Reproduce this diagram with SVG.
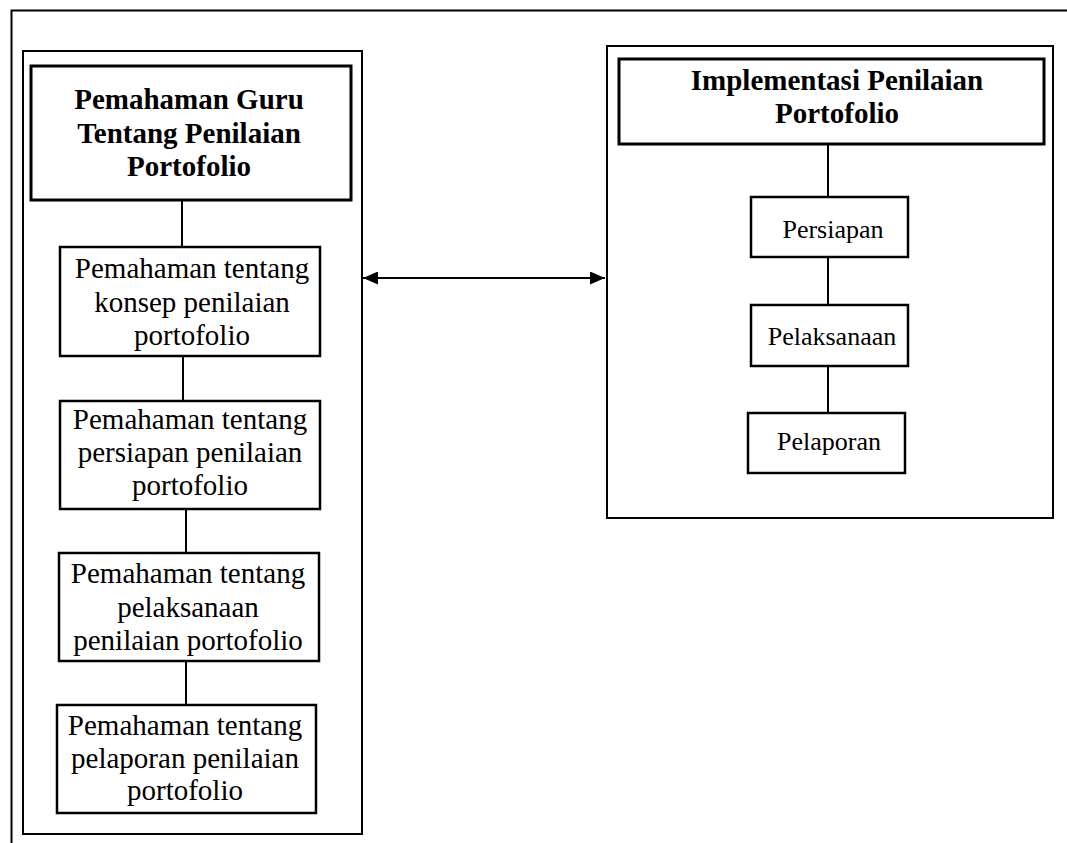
<svg xmlns="http://www.w3.org/2000/svg" width="1067" height="843" viewBox="0 0 1067 843">
<defs>
<style>
.frame{fill:none;stroke:#000;stroke-width:2}
.box{fill:#fff;stroke:#000;stroke-width:2.5}
.tbox{fill:#fff;stroke:#000;stroke-width:3}
.conn{stroke:#000;stroke-width:2;fill:none}
.t{font-family:"Liberation Serif","Times New Roman",serif;font-size:29px;text-anchor:middle;fill:#000}
.tb{font-family:"Liberation Serif","Times New Roman",serif;font-size:29px;font-weight:bold;text-anchor:middle;fill:#000}
.ts{font-family:"Liberation Serif","Times New Roman",serif;font-size:26px;text-anchor:middle;fill:#000}
</style>
<marker id="ah" viewBox="0 0 15 13" refX="15" refY="6.5" markerWidth="15" markerHeight="13" markerUnits="userSpaceOnUse" orient="auto-start-reverse">
<path d="M0,0 L15,6.5 L0,13 z" fill="#000"/>
</marker>
</defs>
<rect width="1067" height="843" fill="#fff"/>
<g id="outer-frame">
<path class="frame" d="M11.5,843 V10.5 H1067"/>
</g>
<g id="left-container">
<rect class="frame" x="23" y="51" width="339" height="783"/>
</g>
<g id="right-container">
<rect class="frame" x="607" y="46" width="446" height="472"/>
</g>
<g id="connectors">
<line class="conn" x1="182" y1="200" x2="182" y2="247"/>
<line class="conn" x1="183" y1="356" x2="183" y2="401"/>
<line class="conn" x1="186" y1="509" x2="186" y2="553"/>
<line class="conn" x1="186" y1="661" x2="186" y2="705"/>
<line class="conn" x1="828" y1="144" x2="828" y2="197"/>
<line class="conn" x1="828" y1="257" x2="828" y2="305"/>
<line class="conn" x1="828" y1="366" x2="828" y2="413"/>
<line class="conn" x1="363" y1="278" x2="605" y2="278" stroke-width="3" marker-start="url(#ah)" marker-end="url(#ah)"/>
</g>
<g id="left-title">
<rect class="tbox" x="31" y="66" width="320" height="134"/>
<text class="tb" x="189" y="109">Pemahaman Guru</text>
<text class="tb" x="189" y="143">Tentang Penilaian</text>
<text class="tb" x="189" y="176">Portofolio</text>
</g>
<g id="konsep">
<rect class="box" x="60" y="247" width="260" height="109"/>
<text class="t" x="192" y="278">Pemahaman tentang</text>
<text class="t" x="192" y="312">konsep penilaian</text>
<text class="t" x="192" y="345">portofolio</text>
</g>
<g id="persiapan-l">
<rect class="box" x="60" y="401" width="260" height="108"/>
<text class="t" x="190" y="429">Pemahaman tentang</text>
<text class="t" x="190" y="462">persiapan penilaian</text>
<text class="t" x="190" y="495">portofolio</text>
</g>
<g id="pelaksanaan-l">
<rect class="box" x="59" y="553" width="260" height="108"/>
<text class="t" x="188" y="583">Pemahaman tentang</text>
<text class="t" x="188" y="617">pelaksanaan</text>
<text class="t" x="188" y="650">penilaian portofolio</text>
</g>
<g id="pelaporan-l">
<rect class="box" x="57" y="705" width="259" height="108"/>
<text class="t" x="185" y="735">Pemahaman tentang</text>
<text class="t" x="185" y="768">pelaporan penilaian</text>
<text class="t" x="185" y="800">portofolio</text>
</g>
<g id="right-title">
<rect class="tbox" x="619" y="59" width="425" height="85"/>
<text class="tb" x="837" y="90">Implementasi Penilaian</text>
<text class="tb" x="837" y="123">Portofolio</text>
</g>
<g id="persiapan-r">
<rect class="box" x="751" y="197" width="157" height="60"/>
<text class="ts" x="833" y="238">Persiapan</text>
</g>
<g id="pelaksanaan-r">
<rect class="box" x="751" y="305" width="157" height="61"/>
<text class="ts" x="832" y="345">Pelaksanaan</text>
</g>
<g id="pelaporan-r">
<rect class="box" x="748" y="413" width="157" height="60"/>
<text class="ts" x="829" y="450">Pelaporan</text>
</g>
</svg>
